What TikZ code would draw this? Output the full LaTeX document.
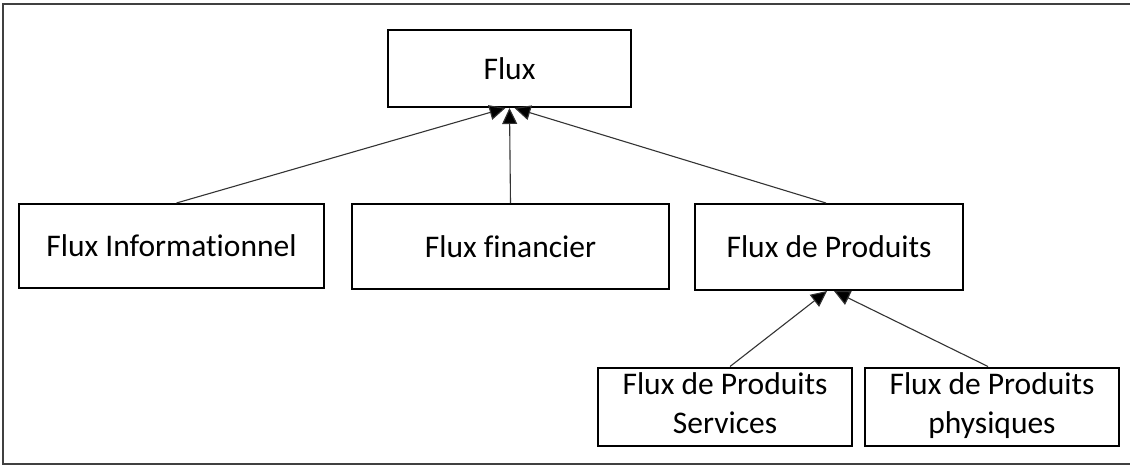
\documentclass[tikz,border=0pt]{standalone}
\usepackage{fontspec}
\setmainfont{Carlito}[Ligatures=NoCommon]
\usetikzlibrary{arrows.meta}

\begin{document}
\begin{tikzpicture}[x=1pt,y=-1pt,
  box/.style={draw=black,line width=2pt,inner sep=0pt,align=center,
    font=\fontsize{31.5}{39}\selectfont},
  link/.style={draw=black!80,line width=1.1pt,
    -{Triangle[width=15pt,length=16pt,fill=black]}}]
\useasboundingbox (0,0) rectangle (1130,466);
\draw[black!75,line width=2pt] (1130,4) -- (3,4) -- (3,464) -- (1130,464);
\node[box,minimum width=243pt,minimum height=77pt] (flux) at (509.5,68.5) {Flux};
\node[box,minimum width=305pt,minimum height=84pt] (info) at (171.5,246) {Flux Informationnel};
\node[box,minimum width=317pt,minimum height=85pt] (fin) at (510.5,246.5) {Flux financier};
\node[box,minimum width=268pt,minimum height=86pt] (prod) at (829,247) {Flux de Produits};
\node[box,minimum width=254pt,minimum height=69pt] (serv) at (725,406.5) {Flux de Produits\strut\\Services\strut};
\node[box,minimum width=254pt,minimum height=69pt] (phys) at (992,406.5) {Flux de Produits\strut\\physiques\strut};
\draw[link] ([xshift=5pt]info.north) -- ([xshift=-4pt]flux.south);
\draw[link] (fin.north) -- (flux.south);
\draw[link] ([xshift=-3pt]prod.north) -- ([xshift=5pt]flux.south);
\draw[link] ([xshift=5pt]serv.north) -- ([xshift=-2pt]prod.south);
\draw[link] ([xshift=-4pt]phys.north) -- ([xshift=5pt]prod.south);
\end{tikzpicture}
\end{document}
